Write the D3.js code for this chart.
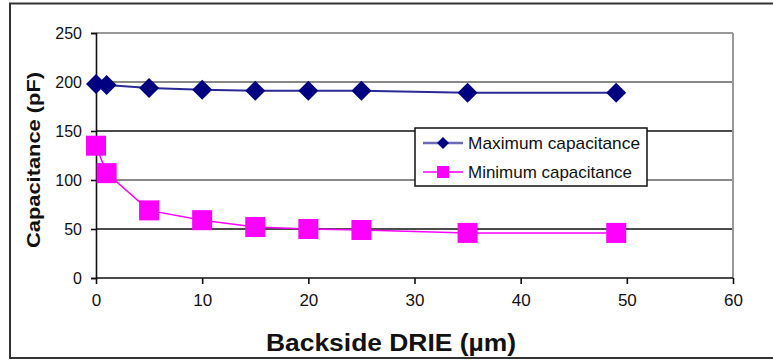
<!DOCTYPE html>
<html><head><meta charset="utf-8">
<script src="https://cdn.jsdelivr.net/npm/d3@7"></script>
<style>body{margin:0;background:#fff}svg{display:block;font-family:Arial,"Liberation Sans",sans-serif}</style>
</head><body><svg id="c" width="773" height="362"></svg>
<script>
const xValues = [0, 1, 5, 10, 15, 20, 25, 35, 49];
const maxCap = [198, 197, 194, 192, 191, 191, 191, 189, 189];
const minCap = [135, 107, 69, 59, 52, 50, 49, 46, 46];
const yTicks = [0, 50, 100, 150, 200, 250];
const xTicks = [0, 10, 20, 30, 40, 50, 60];
const seriesNames = ["Maximum capacitance", "Minimum capacitance"];
const gridColors = {50: "#111", 100: "#888", 150: "#111", 200: "#888", 250: "#999"};

const svg = d3.select("#c");
const x = d3.scaleLinear().domain([0, 60]).range([96, 733]);
const y = d3.scaleLinear().domain([0, 250]).range([278, 33]);

// outer frame
svg.append("rect").attr("x", 10).attr("y", 3.5).attr("width", 780).attr("height", 354.5)
  .attr("fill", "#fff").attr("stroke", "#333").attr("stroke-width", 2);

// gridlines
svg.append("g").selectAll("line").data(yTicks.filter(d => d > 0)).join("line")
  .attr("x1", x(0)).attr("x2", x(60)).attr("y1", d => y(d)).attr("y2", d => y(d))
  .attr("stroke", d => gridColors[d]).attr("stroke-width", d => gridColors[d] === "#111" ? 1.5 : 2.2);
// right border of plot
svg.append("line").attr("x1", x(60)).attr("x2", x(60)).attr("y1", y(250)).attr("y2", y(0))
  .attr("stroke", "#999").attr("stroke-width", 2);

// axes
const yAxis = d3.axisLeft(y).tickValues(yTicks).tickSize(5).tickPadding(9);
const gy = svg.append("g").attr("transform", `translate(${x(0)},0)`).call(yAxis);
const xAxis = d3.axisBottom(x).tickValues(xTicks).tickSize(6).tickPadding(10);
const gx = svg.append("g").attr("transform", `translate(0,${y(0)})`).call(xAxis);
[gy, gx].forEach(g => {
  g.select(".domain").attr("stroke", "#111").attr("stroke-width", 1.6);
  g.selectAll(".tick line").attr("stroke", "#111").attr("stroke-width", 1.6);
  g.selectAll("text").attr("font-size", 16).attr("fill", "#111").attr("font-family", "Arial, 'Liberation Sans', sans-serif");
});
gy.selectAll("text").attr("dy", "0.36em");
gx.select(".domain").attr("d", `M${x(0)},0H${x(60)}`);
gx.selectAll("text").attr("dy", "0.71em").attr("y", 16).attr("font-size", 17);

// series
const line = d3.line().x(d => x(d[0])).y(d => y(d[1]));
const maxData = xValues.map((v, i) => [v, maxCap[i]]);
const minData = xValues.map((v, i) => [v, minCap[i]]);
svg.append("path").datum(maxData).attr("d", line).attr("fill", "none").attr("stroke", "#2a2a96").attr("stroke-width", 2);
svg.append("path").datum(minData).attr("d", line).attr("fill", "none").attr("stroke", "#ff00ff").attr("stroke-width", 1.5);

const diamond = (cx, cy, r) => `M${cx},${cy - r}L${cx + r},${cy}L${cx},${cy + r}L${cx - r},${cy}Z`;
svg.append("g").selectAll("path").data(maxData).join("path")
  .attr("d", d => diamond(x(d[0]), y(d[1]), 10)).attr("fill", "#000080");
svg.append("g").selectAll("rect").data(minData).join("rect")
  .attr("x", d => x(d[0]) - 10).attr("y", d => y(d[1]) - 10).attr("width", 20).attr("height", 20)
  .attr("fill", "#ff00ff");

// legend
const lg = svg.append("g");
lg.append("rect").attr("x", 415).attr("y", 128).attr("width", 232).attr("height", 58)
  .attr("fill", "#fff").attr("stroke", "#111").attr("stroke-width", 1.5);
const rows = [143, 172];
lg.append("line").attr("x1", 423).attr("x2", 463).attr("y1", rows[0]).attr("y2", rows[0]).attr("stroke", "#6a6ab8").attr("stroke-width", 2.5);
lg.append("path").attr("d", diamond(443, rows[0], 6)).attr("fill", "#000080");
lg.append("line").attr("x1", 423).attr("x2", 463).attr("y1", rows[1]).attr("y2", rows[1]).attr("stroke", "#ff00ff").attr("stroke-width", 1.5);
lg.append("rect").attr("x", 437).attr("y", rows[1] - 6).attr("width", 12).attr("height", 12).attr("fill", "#ff00ff");
lg.selectAll("text").data(seriesNames).join("text")
  .attr("x", 468).attr("y", (d, i) => rows[i]).attr("dy", "0.36em")
  .attr("font-size", 17).attr("fill", "#111").attr("textLength", (d, i) => i === 0 ? 172 : 164).attr("lengthAdjust", "spacingAndGlyphs")
  .text(d => d);

// axis titles
svg.append("text").attr("x", 391).attr("y", 351).attr("text-anchor", "middle")
  .attr("font-size", 23).attr("font-weight", "bold").attr("fill", "#111")
  .attr("textLength", 250).attr("lengthAdjust", "spacingAndGlyphs")
  .text("Backside DRIE (µm)");
svg.append("text").attr("transform", "translate(40,160) rotate(-90)").attr("text-anchor", "middle")
  .attr("font-size", 19).attr("font-weight", "bold").attr("fill", "#111")
  .attr("textLength", 176).attr("lengthAdjust", "spacingAndGlyphs")
  .text("Capacitance (pF)");
</script></body></html>
